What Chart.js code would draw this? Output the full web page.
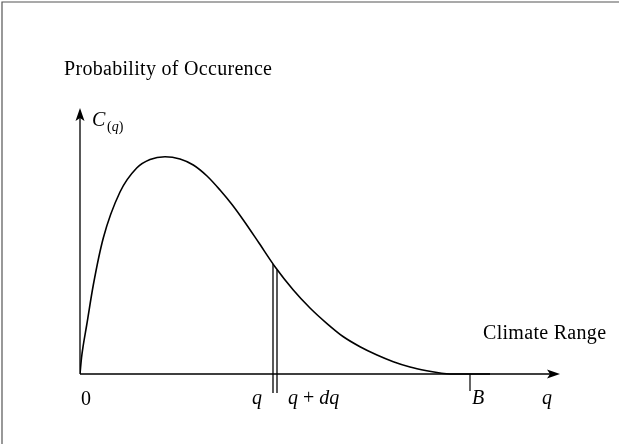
<!DOCTYPE html>
<html><head><meta charset="utf-8">
<script src="https://cdn.jsdelivr.net/npm/chart.js@4"></script>
<style>html,body{margin:0;padding:0;background:#fff}canvas{display:block}</style>
</head><body>
<canvas id="c" width="619" height="444"></canvas>
<script>
// climate range q (x) and probability of occurrence C(q) (y)
const curveQ = [0, 1.5, 3.3, 6.7, 13.3, 23.3, 40, 56.7, 70, 85, 100, 113.3, 127, 140, 152, 163.3, 179, 195, 213.3, 230, 246.7, 263, 280, 297, 313.3, 330, 346.7, 360, 370, 390, 410];
const curveC = [0, 16, 29, 49, 89, 136, 182, 206, 214.5, 217.3, 215, 209, 198, 184, 169.5, 154, 131, 107.3, 84, 66, 50.7, 37.5, 27.3, 19, 12.3, 7, 3.3, 1, 0, 0, 0];
// interval strip q .. q+dq
const stripQ = [193, 197];
const stripTop = [110, 104];
const stripBottom = -19;
// upper bound B
const boundQ = 390;
const boundTick = -17;
// axis extents
const axisMaxQ = 480, axisMaxC = 266, axisMinC = -20;

const datasets = [{
  data: curveQ.map((q, i) => ({x: q, y: curveC[i]})),
  borderColor: '#000', borderWidth: 1.6, pointRadius: 0,
  cubicInterpolationMode: 'monotone', fill: false
}];
stripQ.forEach((q, i) => datasets.push({
  data: [{x: q, y: stripBottom}, {x: q, y: stripTop[i]}],
  borderColor: '#000', borderWidth: 1.3, pointRadius: 0, fill: false
}));
datasets.push({
  data: [{x: boundQ, y: 0}, {x: boundQ, y: boundTick}],
  borderColor: '#000', borderWidth: 1.2, pointRadius: 0, fill: false
});

function parts(ctx, x, y, list) {
  let cx = x;
  for (const [txt, font] of list) {
    ctx.font = font;
    ctx.fillText(txt, cx, y);
    cx += ctx.measureText(txt).width;
  }
}

const decor = {
  id: 'decor',
  beforeDatasetsDraw(chart) {
    const {ctx, scales: {x, y}} = chart;
    const x0 = x.getPixelForValue(0), y0 = y.getPixelForValue(0);
    const xe = x.getPixelForValue(axisMaxQ), ye = y.getPixelForValue(axisMaxC);
    ctx.save();
    ctx.strokeStyle = '#000'; ctx.fillStyle = '#000'; ctx.lineWidth = 1.3;
    ctx.beginPath();
    ctx.moveTo(x0, y0); ctx.lineTo(xe - 6, y0);
    ctx.moveTo(x0, y0); ctx.lineTo(x0, ye + 6);
    ctx.stroke();
    // x arrow
    ctx.beginPath();
    ctx.moveTo(xe, y0); ctx.lineTo(xe - 13, y0 - 4.5); ctx.lineTo(xe - 10, y0); ctx.lineTo(xe - 13, y0 + 4.5); ctx.closePath(); ctx.fill();
    // y arrow
    ctx.beginPath();
    ctx.moveTo(x0, ye); ctx.lineTo(x0 - 4.5, ye + 13); ctx.lineTo(x0, ye + 10); ctx.lineTo(x0 + 4.5, ye + 13); ctx.closePath(); ctx.fill();
    ctx.restore();
  },
  afterDraw(chart) {
    const {ctx, scales: {x, y}} = chart;
    const x0 = x.getPixelForValue(0), y0 = y.getPixelForValue(0);
    ctx.save();
    // frame
    ctx.strokeStyle = '#555'; ctx.lineWidth = 1.2;
    ctx.beginPath(); ctx.moveTo(2, 444); ctx.lineTo(2, 2); ctx.lineTo(619, 2); ctx.stroke();
    ctx.fillStyle = '#000';
    ctx.textBaseline = 'alphabetic';
    const up = '20px "Liberation Serif"', it = 'italic 20px "Liberation Serif"';
    const sup = '14px "Liberation Serif"', sit = 'italic 14px "Liberation Serif"';
    ctx.font = up;
    ctx.letterSpacing = '0.3px';
    ctx.fillText('Probability of Occurence', x0 - 16, 75);
    ctx.fillText('Climate Range', 483, 339);
    ctx.letterSpacing = '0px';
    parts(ctx, x0 + 12, 126, [['C', it]]);
    parts(ctx, x0 + 27, 131, [['(', sup], ['q', sit], [')', sup]]);
    parts(ctx, x0 + 1, y0 + 31, [['0', up]]);
    parts(ctx, x.getPixelForValue(stripQ[0]) - 21, y0 + 30, [['q', it]]);
    parts(ctx, x.getPixelForValue(stripQ[1]) + 11, y0 + 30, [['q', it], [' + ', up], ['dq', it]]);
    parts(ctx, x.getPixelForValue(boundQ) + 2, y0 + 30, [['B', it]]);
    parts(ctx, x.getPixelForValue(axisMaxQ) - 18, y0 + 30, [['q', it]]);
    ctx.restore();
  }
};

new Chart(document.getElementById('c'), {
  type: 'line',
  data: {datasets},
  options: {
    responsive: false, animation: false, devicePixelRatio: 1, events: [],
    layout: {padding: {left: 80, top: 108, right: 59, bottom: 50}},
    plugins: {legend: {display: false}, tooltip: {enabled: false}, title: {display: false}},
    scales: {
      x: {type: 'linear', min: 0, max: axisMaxQ, display: false},
      y: {type: 'linear', min: axisMinC, max: axisMaxC, display: false}
    }
  },
  plugins: [decor]
});
</script>
</body></html>
